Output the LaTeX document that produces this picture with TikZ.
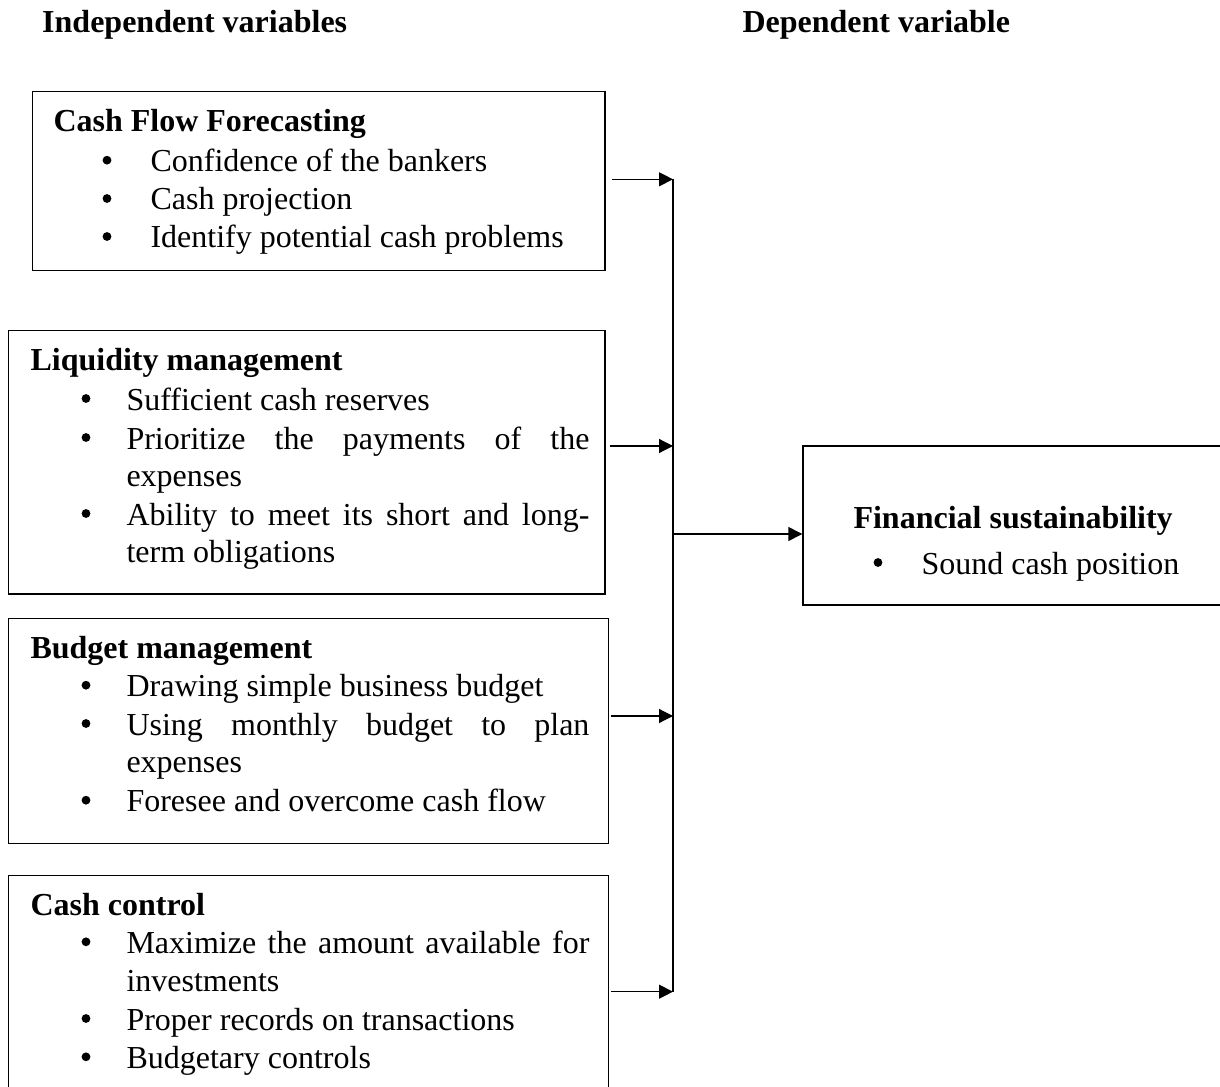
\documentclass[tikz,border=0pt]{standalone}
\usepackage{fontspec}
\setmainfont{Liberation Serif}
\usepackage{tikz}
\usetikzlibrary{arrows.meta, positioning}
\newcommand{\justline}[1]{\makebox[173.6pt][s]{#1}}

\begin{document}
\begin{tikzpicture}[x=0.375pt, y=-0.375pt,
  varbox/.style={draw, line width=0.5pt, inner sep=0pt},
  head/.style={anchor=base west, inner sep=0pt, font=\fontsize{12}{14}\selectfont\bfseries},
  item/.style={anchor=base west, inner sep=0pt, font=\fontsize{12}{14}\selectfont},
  dot/.style={circle, fill, inner sep=0pt, minimum size=3.3pt},
  arr/.style={-{Triangle[length=5.2pt, width=5.2pt]}, line width=0.45pt}]
\useasboundingbox (0,0) rectangle (1220,1087);

% Column headings
\node[head] (indep) at (41.7,32.3) {Independent variables};
\node[head] (dep) at (742,32.3) {Dependent variable};

% Boxes
\node[varbox, minimum width=214.6pt, minimum height=67.1pt] (cff) at (318.9,181.2) {};
\node[varbox, minimum width=223.8pt, minimum height=98.7pt] (liq) at (306.7,462.4) {};
\node[varbox, minimum width=225.2pt, minimum height=84.4pt] (bud) at (308.5,730.8) {};
\node[varbox, minimum width=225.2pt, minimum height=82.2pt] (ctl) at (308.5,985.4) {};
\node[varbox, minimum width=159.4pt, minimum height=59.6pt] (fin) at (1015.5,525.5) {};

% Cash flow forecasting
\node[head] (cfft) at (53,131.7) {Cash Flow Forecasting};
\node[item] (cff1) at (150,171.7) {Confidence of the bankers};
\node[item] (cff2) at (150,210) {Cash projection};
\node[item] (cff3) at (150,248) {Identify potential cash problems};
\foreach \y in {171.7,210,248} \node[dot] at (107,\y-11.5) {};

% Liquidity management
\node[head] (liqt) at (30,370.7) {Liquidity management};
\node[item] (liq1) at (126,410) {Sufficient cash reserves};
\node[item] (liq2) at (126,449) {\justline{Prioritize the payments of the}};
\node[item] (liq2b) at (126,486.7) {expenses};
\node[item] (liq3) at (126,525) {\justline{Ability to meet its short and long-}};
\node[item] (liq3b) at (126,562.7) {term obligations};
\foreach \y in {410,449,525} \node[dot] at (86,\y-11.5) {};

% Budget management
\node[head] (budt) at (30,658.3) {Budget management};
\node[item] (bud1) at (126,696.7) {Drawing simple business budget};
\node[item] (bud2) at (126,735) {\justline{Using monthly budget to plan}};
\node[item] (bud2b) at (126,772.7) {expenses};
\node[item] (bud3) at (126,811.7) {Foresee and overcome cash flow};
\foreach \y in {696.7,735,811.7} \node[dot] at (86,\y-11.5) {};

% Cash control
\node[head] (ctlt) at (30,915) {Cash control};
\node[item] (ctl1) at (126,953.3) {\justline{Maximize the amount available for}};
\node[item] (ctl1b) at (126,991.7) {investments};
\node[item] (ctl2) at (126,1030) {Proper records on transactions};
\node[item] (ctl3) at (126,1068.3) {Budgetary controls};
\foreach \y in {953.3,1030,1068.3} \node[dot] at (86,\y-11.5) {};

% Financial sustainability
\node[head] (fint) at (853,528) {Financial sustainability};
\node[item] (fin1) at (921,574) {Sound cash position};
\node[dot] (finb) at (878,562.5) {};

% Collecting line and arrows
\coordinate (j1) at (673,179.3);
\coordinate (j2) at (673,446);
\coordinate (j3) at (673,716);
\coordinate (j4) at (673,991.7);
\coordinate (jout) at (673,534);
\draw[line width=0.45pt] (j1) -- (j4);
\draw[arr] (cff.east |- j1) ++(2.5pt,0) -- (j1);
\draw[arr] (liq.east |- j2) ++(1.6pt,0) -- (j2);
\draw[arr] (bud.east |- j3) ++(0.5pt,0) -- (j3);
\draw[arr] (ctl.east |- j4) ++(0.5pt,0) -- (j4);
\draw[arr] (jout) -- (jout -| fin.west);
\end{tikzpicture}
\end{document}
